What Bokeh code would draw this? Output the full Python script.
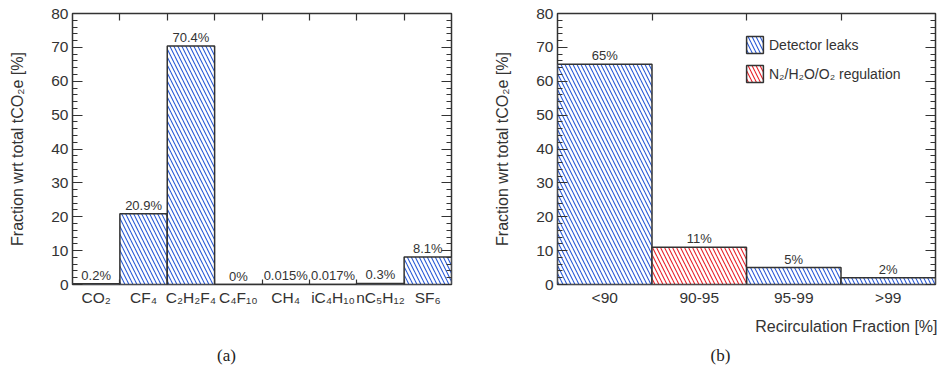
from bokeh.plotting import figure
from bokeh.models import (ColumnDataSource, FixedTicker, SingleIntervalTicker, LinearAxis,
                          Range1d, Legend, LegendItem, CustomJSTickFormatter)
from bokeh.core.properties import value
from bokeh.layouts import row, column
from bokeh.embed import file_html
from bokeh.resources import INLINE

# ---------------- data ----------------
gases = ["CO₂", "CF₄", "C₂H₂F₄", "C₄F₁₀", "CH₄", "iC₄H₁₀", "nC₅H₁₂", "SF₆"]
gas_fraction = [0.2, 20.9, 70.4, 0.0, 0.015, 0.017, 0.3, 8.1]
gas_labels = ["0.2%", "20.9%", "70.4%", "0%", "0.015%", "0.017%", "0.3%", "8.1%"]

recirc_bins = ["<90", "90-95", "95-99", ">99"]
recirc_fraction = [65, 11, 5, 2]
recirc_labels = ["65%", "11%", "5%", "2%"]
recirc_origin = ["Detector leaks", "N₂/H₂O/O₂ regulation", "Detector leaks", "Detector leaks"]
origin_order = ["Detector leaks", "N₂/H₂O/O₂ regulation"]
origin_colors = {"Detector leaks": "#2a5bd7", "N₂/H₂O/O₂ regulation": "#e8232a"}

y_label = "Fraction wrt total tCO₂e [%]"
x_label_right = "Recirculation Fraction [%]"
captions = ["(a)", "(b)"]

FONT = "Liberation Sans"
SERIF = "Liberation Serif"
DARK = "#333333"
Y_MAX = 80
TOP, FRAME_H, BOTTOM = 13, 271, 26
PANEL_H = TOP + FRAME_H + BOTTOM
W1, W2 = 470, 469
CAPTION_H = 376 - PANEL_H


def base_figure(width, n_bins, border_left, border_right):
    p = figure(width=width, height=PANEL_H, x_range=Range1d(0, n_bins), y_range=Range1d(0, Y_MAX),
               output_backend="svg", toolbar_location=None, x_axis_type=None, y_axis_type=None,
               min_border_left=border_left, min_border_right=border_right,
               min_border_top=TOP, min_border_bottom=BOTTOM)
    p.outline_line_color = DARK
    p.outline_line_width = 1.5
    p.background_fill_color = "white"
    p.border_fill_color = "white"
    edges = list(range(1, n_bins))

    for side in ("left", "right"):
        ax = LinearAxis(ticker=SingleIntervalTicker(interval=10, num_minor_ticks=5))
        ax.axis_line_color = None
        ax.major_tick_in = 10
        ax.major_tick_out = 0
        ax.minor_tick_in = 5
        ax.minor_tick_out = 0
        ax.major_tick_line_color = DARK
        ax.minor_tick_line_color = DARK
        ax.major_tick_line_width = 1.2
        ax.minor_tick_line_width = 1.2
        ax.major_label_text_font = FONT
        ax.major_label_text_font_size = "15.5px"
        ax.major_label_text_color = DARK
        ax.major_label_standoff = 4
        if side == "left":
            ax.axis_label = y_label
            ax.axis_label_text_font = FONT
            ax.axis_label_text_font_size = "16px"
            ax.axis_label_text_font_style = "normal"
            ax.axis_label_text_color = DARK
            ax.axis_label_standoff = 22
        else:
            ax.formatter = CustomJSTickFormatter(code="return ''")
            ax.major_label_standoff = 0
        p.add_layout(ax, side)

    top = LinearAxis(ticker=FixedTicker(ticks=[], minor_ticks=edges))
    top.axis_line_color = None
    top.minor_tick_in = 7
    top.minor_tick_out = 0
    top.minor_tick_line_color = DARK
    top.minor_tick_line_width = 1.2
    top.major_tick_in = 0
    top.major_tick_out = 0
    top.major_label_standoff = 0
    p.add_layout(top, "above")
    return p


def bottom_axis(p, names, n_bins, edge_ticks):
    centers = [i + 0.5 for i in range(n_bins)]
    edges = list(range(1, n_bins)) if edge_ticks else []
    ax = LinearAxis(ticker=FixedTicker(ticks=centers, minor_ticks=edges),
                    formatter=CustomJSTickFormatter(args=dict(labels=names),
                                                    code="return labels[Math.floor(tick)] || ''"))
    ax.axis_line_color = None
    ax.major_tick_in = 0
    ax.major_tick_out = 0
    ax.minor_tick_in = 5
    ax.minor_tick_out = 0
    ax.minor_tick_line_color = DARK
    ax.minor_tick_line_width = 1.2
    ax.major_label_text_font = FONT
    ax.major_label_text_font_size = "15.5px"
    ax.major_label_text_color = DARK
    ax.major_label_standoff = 4
    p.add_layout(ax, "below")


def bars(p, idx, values, color):
    src = ColumnDataSource(dict(left=[i for i in idx], right=[i + 1 for i in idx],
                                top=[values[i] for i in idx], bottom=[0] * len(idx)))
    return p.quad(left="left", right="right", top="top", bottom="bottom", source=src,
                  fill_color="white", line_color=DARK, line_width=1.5,
                  hatch_pattern="\\", hatch_color=color, hatch_weight=1.1, hatch_scale=8)


def bar_text(p, values, labels):
    src = ColumnDataSource(dict(x=[i + 0.5 for i in range(len(values))], y=values, t=labels))
    p.text(x="x", y="y", text="t", source=src, text_align="center", text_baseline="bottom",
           y_offset=-1, text_font_size="13px", text_color=DARK, text_font=value(FONT))


# ---------------- left panel ----------------
n1 = len(gases)
p1 = base_figure(W1, n1, 72, 19)
bottom_axis(p1, gases, n1, True)
bars(p1, list(range(n1)), gas_fraction, "#2a5bd7")
bar_text(p1, gas_fraction, gas_labels)

# ---------------- right panel ----------------
n2 = len(recirc_bins)
p2 = base_figure(W2, n2, 87, 4)
bottom_axis(p2, recirc_bins, n2, False)
renderers = {}
for origin in origin_order:
    idx = [i for i, o in enumerate(recirc_origin) if o == origin]
    renderers[origin] = bars(p2, idx, recirc_fraction, origin_colors[origin])
bar_text(p2, recirc_fraction, recirc_labels)

legend = Legend(items=[LegendItem(label=o, renderers=[renderers[o]]) for o in origin_order],
                location=(187, 200), glyph_width=21, glyph_height=21, spacing=8, padding=0,
                margin=0, border_line_color=None, background_fill_alpha=0, label_standoff=4,
                label_text_font=FONT, label_text_font_size="14px", label_text_color=DARK)
p2.add_layout(legend)

# ---------------- caption strip (x-axis title of (b) and sub-captions) ----------------
p3 = figure(width=W1 + W2, height=CAPTION_H, x_range=Range1d(0, W1 + W2),
            y_range=Range1d(0, CAPTION_H), output_backend="svg", toolbar_location=None,
            x_axis_type=None, y_axis_type=None, min_border=0)
p3.outline_line_color = None
p3.xgrid.visible = False
p3.ygrid.visible = False
p3.text(x=[W1 + W2 - 2], y=[CAPTION_H - 16], text=[x_label_right], text_align="right",
        text_baseline="middle", text_font=value(FONT), text_font_size="16px", text_color=DARK)
p3.text(x=[226, 720], y=[CAPTION_H - 45, CAPTION_H - 45], text=captions, text_align="center",
        text_baseline="middle", text_font=value(SERIF), text_font_size="17px",
        text_color="#222222")

layout = column(row(p1, p2), p3)
open("out.html", "w").write(file_html(layout, INLINE))
